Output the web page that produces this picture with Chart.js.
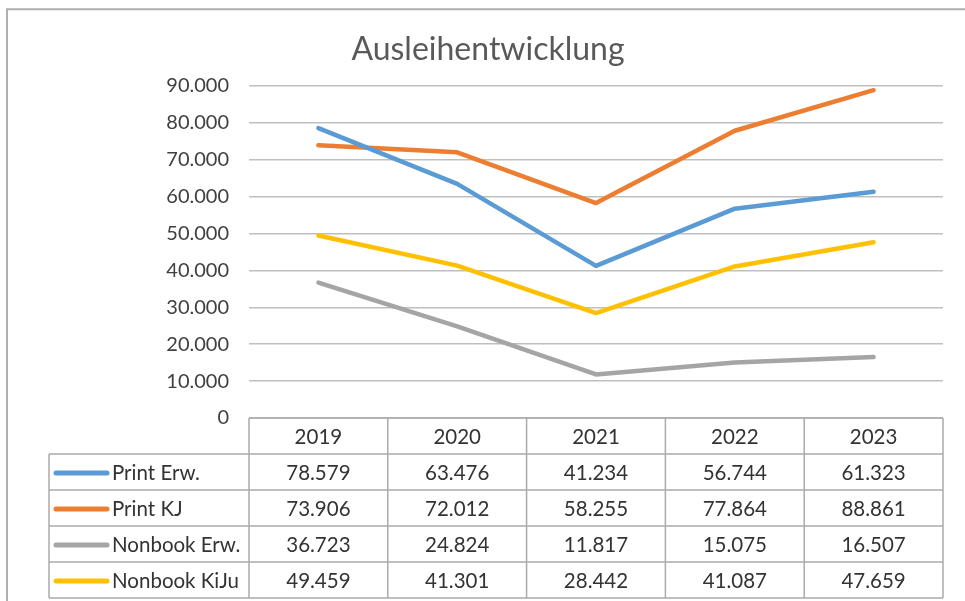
<!DOCTYPE html>
<html>
<head>
<meta charset="utf-8">
<script src="https://cdn.jsdelivr.net/npm/chart.js@4.4.1/dist/chart.umd.min.js"></script>
<style>
  html, body { margin: 0; padding: 0; background: #fff; }
  #wrap { width: 965px; height: 601px; position: relative; }
</style>
</head>
<body>
<div id="wrap"><canvas id="ausleihen" width="965" height="601"></canvas></div>
<script>
// Jahre und Werte (aus der Datentabelle)
const jahre = ['2019', '2020', '2021', '2022', '2023'];
const printErw = [78579, 63476, 41234, 56744, 61323];
const printKJ = [73906, 72012, 58255, 77864, 88861];
const nonbookErw = [36723, 24824, 11817, 15075, 16507];
const nonbookKiJu = [49459, 41301, 28442, 41087, 47659];
const reihen = ['Print Erw.', 'Print KJ', 'Nonbook Erw.', 'Nonbook KiJu'];
const farben = ['#5B9BD5', '#ED7D31', '#A5A5A5', '#FFC000'];
const yMax = 90000;
const yStep = 10000;

const schrift = 'Lato, "Open Sans", sans-serif';

// Zahl mit Tausenderpunkt formatieren
function formatZahl(n) {
    return String(n).replace(/\B(?=(\d{3})+(?!\d))/g, '.');
}

// Rahmen und Datentabelle unter dem Diagramm zeichnen
const tabellePlugin = {
    id: 'datenTabelle',
    beforeDraw(chart) {
        const ctx = chart.ctx;
        ctx.save();
        ctx.strokeStyle = '#b0b0b0';
        ctx.lineWidth = 2;
        ctx.beginPath();
        ctx.moveTo(7, 1000);
        ctx.lineTo(7, 9.3);
        ctx.lineTo(1000, 9.3);
        ctx.stroke();
        ctx.restore();
    },
    afterDraw(chart) {
        const ctx = chart.ctx;
        const a = chart.chartArea;
        const xs = chart.scales.x;
        const colW = a.width / jahre.length;
        const rowH = 36;
        const top = a.bottom;
        const legLeft = 49;
        const werte = [printErw, printKJ, nonbookErw, nonbookKiJu];

        ctx.save();
        ctx.strokeStyle = '#ababab';
        ctx.lineWidth = 1.5;
        ctx.beginPath();
        // waagerechte Linien
        ctx.moveTo(a.left, top); ctx.lineTo(a.right, top);
        for (let r = 1; r <= reihen.length + 1; r++) {
            ctx.moveTo(legLeft, top + r * rowH);
            ctx.lineTo(a.right, top + r * rowH);
        }
        // senkrechte Linien
        for (let c = 0; c <= jahre.length; c++) {
            ctx.moveTo(a.left + c * colW, top);
            ctx.lineTo(a.left + c * colW, top + (reihen.length + 1) * rowH);
        }
        ctx.moveTo(legLeft, top + rowH);
        ctx.lineTo(legLeft, top + (reihen.length + 1) * rowH);
        ctx.stroke();

        ctx.fillStyle = '#333333';
        ctx.font = '20.5px ' + schrift;
        ctx.textAlign = 'center';
        ctx.textBaseline = 'middle';
        jahre.forEach(function(j, i) {
            ctx.fillText(j, xs.getPixelForValue(i), top + rowH / 2 + 1);
        });
        werte.forEach(function(reihe, r) {
            const y = top + (r + 1) * rowH + rowH / 2 + 1;
            reihe.forEach(function(v, i) {
                ctx.fillText(formatZahl(v), xs.getPixelForValue(i), y);
            });
            // Legendensymbol
            ctx.strokeStyle = farben[r];
            ctx.lineWidth = 5;
            ctx.lineCap = 'round';
            ctx.beginPath();
            ctx.moveTo(56, y);
            ctx.lineTo(107, y);
            ctx.stroke();
            ctx.textAlign = 'left';
            ctx.fillText(reihen[r], 112, y);
            ctx.textAlign = 'center';
        });
        ctx.restore();
    }
};

const ctx = document.getElementById('ausleihen').getContext('2d');
const datenreihen = [printErw, printKJ, nonbookErw, nonbookKiJu].map(function(d, i) {
    return {
        label: reihen[i],
        data: d,
        borderColor: farben[i],
        backgroundColor: farben[i],
        borderWidth: 4.5,
        borderCapStyle: 'round',
        borderJoinStyle: 'round',
        pointRadius: 0,
        tension: 0,
        fill: false
    };
});

new Chart(ctx, {
    type: 'line',
    data: { labels: jahre, datasets: datenreihen },
    options: {
        responsive: false,
        animation: false,
        devicePixelRatio: 1,
        layout: { padding: { left: 0, right: 22, top: 86, bottom: 183 } },
        plugins: {
            legend: { display: false },
            tooltip: { enabled: false },
            title: { display: false }
        },
        scales: {
            x: {
                display: false,
                offset: true
            },
            y: {
                min: 0,
                max: yMax,
                afterFit: function(scale) { scale.width = 249; },
                ticks: {
                    stepSize: yStep,
                    padding: 20,
                    color: '#404040',
                    font: { family: schrift, size: 20 },
                    callback: function(v) { return formatZahl(v); }
                },
                grid: { color: '#bfbfbf', lineWidth: 1.5, drawTicks: false },
                border: { display: false }
            }
        }
    },
    plugins: [tabellePlugin, {
        id: 'titel',
        afterDraw(chart) {
            const c = chart.ctx;
            c.save();
            c.fillStyle = '#595959';
            c.font = '32px ' + schrift;
            c.textAlign = 'center';
            c.textBaseline = 'middle';
            c.fillText('Ausleihentwicklung', 488, 50);
            c.restore();
        }
    }]
});
</script>
</body>
</html>
